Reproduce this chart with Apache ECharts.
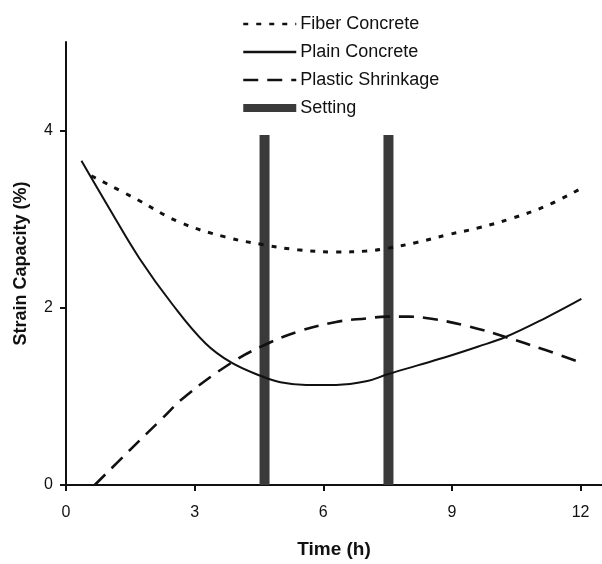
<!DOCTYPE html>
<html>
<head>
<meta charset="utf-8">
<script src="https://cdn.jsdelivr.net/npm/echarts@6/dist/echarts.min.js"></script>
<style>html,body{margin:0;padding:0;background:#fff}#c{width:602px;height:564px}</style>
</head>
<body>
<div id="c"></div>
<script>
var xTicks = [0, 3, 6, 9, 12];
var yTicks = [0, 2, 4];
var fiberConcrete = [[0.59,3.49],[1.63,3.23],[2.63,2.97],[3.71,2.80],[4.63,2.71],[5.4,2.655],[6.3,2.63],[7.0,2.64],[7.48,2.67],[8.2,2.74],[8.86,2.82],[9.6,2.90],[10.4,3.01],[11.2,3.15],[12.02,3.35]];
var plainConcrete = [[0.36,3.66],[1.0,3.13],[1.71,2.56],[2.48,2.04],[3.25,1.60],[3.86,1.38],[4.55,1.23],[5.0,1.16],[5.6,1.13],[6.3,1.13],[7.0,1.17],[7.5,1.25],[8.2,1.35],[8.9,1.45],[9.6,1.56],[10.25,1.67],[11.2,1.89],[12.02,2.10]];
var plasticShrinkage = [[0.67,0],[1.5,0.40],[2.2,0.73],[2.78,1.0],[3.86,1.38],[4.63,1.58],[5.4,1.73],[6.3,1.84],[7.0,1.88],[7.48,1.90],[8.0,1.90],[8.48,1.88],[9.4,1.79],[10.25,1.67],[11.2,1.52],[12.02,1.38]];
var settingTimes = [4.63, 7.52];
var settingHeight = 3.95;

var font = 'Liberation Sans, Arial, sans-serif';
var chart = echarts.init(document.getElementById('c'), null, {renderer: 'canvas'});
chart.setOption({
  animation: false,
  backgroundColor: '#ffffff',
  textStyle: {fontFamily: font, color: '#000'},
  legend: {
    orient: 'vertical',
    left: 237,
    top: 10,
    itemWidth: 53,
    itemHeight: 8,
    itemGap: 10,
    itemStyle: {opacity: 0},
    lineStyle: {width: 2.5},
    textStyle: {fontFamily: font, fontSize: 18, color: '#111', lineHeight: 18, padding: [0,0,0,-1]},
    data: [
      {name: 'Fiber Concrete'},
      {name: 'Plain Concrete'},
      {name: 'Plastic Shrinkage'},
      {name: 'Setting', icon: 'rect', itemStyle: {opacity: 1, color: '#3a3a3a'}}
    ]
  },
  grid: {left: 66, top: 42, width: 541.6, height: 448.5, containLabel: false},
  xAxis: {
    type: 'value', min: 0, max: 12.5,
    name: 'Time (h)', nameLocation: 'middle', nameGap: 55,
    nameTextStyle: {fontFamily: font, fontSize: 19, fontWeight: 'bold', color: '#111'},
    axisLine: {show: true, lineStyle: {color: '#111', width: 2}},
    axisTick: {show: true, length: 6, lineStyle: {color: '#111', width: 2}, customValues: xTicks},
    axisLabel: {fontFamily: font, fontSize: 16, color: '#111', margin: 20, customValues: xTicks},
    splitLine: {show: false}
  },
  yAxis: {
    type: 'value', min: 0, max: 5,
    name: 'Strain Capacity (%)', nameLocation: 'middle', nameGap: 36,
    nameTextStyle: {fontFamily: font, fontSize: 18, fontWeight: 'bold', color: '#111'},
    axisLine: {show: true, onZero: false, lineStyle: {color: '#111', width: 2}},
    axisTick: {show: true, length: 6, lineStyle: {color: '#111', width: 2}, customValues: yTicks},
    axisLabel: {fontFamily: font, fontSize: 16, color: '#111', margin: 13, customValues: yTicks},
    splitLine: {show: false}
  },
  series: [
    {
      name: 'Setting', type: 'bar', barWidth: 10, z: 1,
      itemStyle: {color: '#3a3a3a'},
      data: settingTimes.map(function (t) { return [t, settingHeight]; })
    },
    {
      name: 'Fiber Concrete', type: 'line', smooth: 0.4, showSymbol: false, symbol: 'none', z: 3,
      lineStyle: {color: '#111', width: 3, type: [5, 8]},
      itemStyle: {color: '#111'},
      data: fiberConcrete
    },
    {
      name: 'Plain Concrete', type: 'line', smooth: 0.4, showSymbol: false, symbol: 'none', z: 3,
      lineStyle: {color: '#111', width: 2},
      itemStyle: {color: '#111'},
      data: plainConcrete
    },
    {
      name: 'Plastic Shrinkage', type: 'line', smooth: 0.4, showSymbol: false, symbol: 'none', z: 3,
      lineStyle: {color: '#111', width: 2.6, type: [15, 9]},
      itemStyle: {color: '#111'},
      data: plasticShrinkage
    }
  ]
});
</script>
</body>
</html>
